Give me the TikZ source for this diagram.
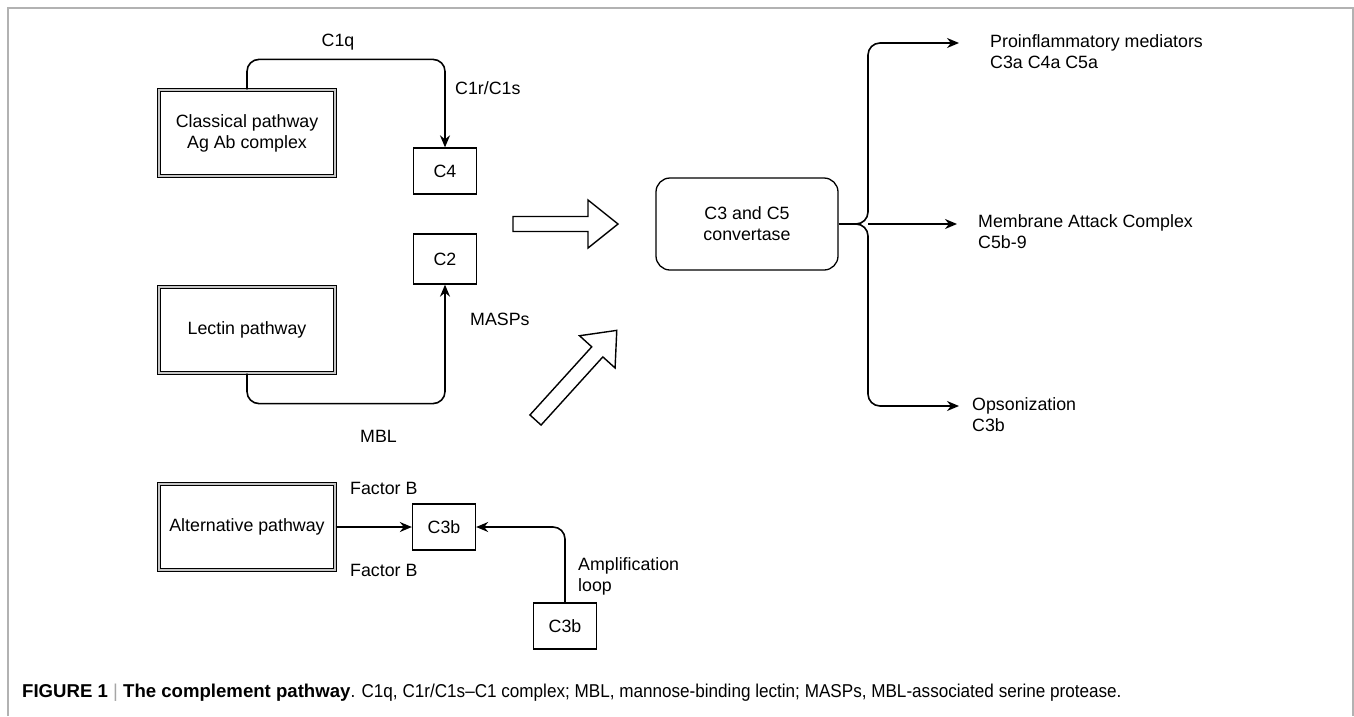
\documentclass[tikz,border=0pt]{standalone}
\usepackage{fontspec}
\setmainfont{Liberation Sans}
\newfontfamily\capfont[FakeStretch=0.92]{Liberation Sans}
\usetikzlibrary{positioning,arrows.meta}

\begin{document}
\begin{tikzpicture}[x=1pt,y=-1pt,
  font=\fontsize{17.8}{21}\selectfont,
  pathbox/.style={draw, line width=1.2pt, double=gray!45, double distance=1.2pt,
    minimum width=176pt, minimum height=86pt, align=center},
  cbox/.style={draw, line width=1.3pt, minimum width=63pt, minimum height=46pt, inner sep=0pt},
  convbox/.style={draw, line width=1.3pt, rounded corners=14pt, minimum width=182pt,
    minimum height=92pt, align=center},
  arr/.style={line width=1.6pt, -{Stealth[length=12pt,width=10pt]}, rounded corners=12pt},
  lbl/.style={anchor=west, align=left, inner sep=0pt},
  fatarrow/.style={draw, line width=1.4pt, fill=white, line join=miter}]
\useasboundingbox (0,0) rectangle (1354,716);

% Outer frame of the figure
\draw[gray!60, line width=1.5pt] (8,716) -- (8,8) -- (1353,8) -- (1353,716);

% The three pathways
\node[pathbox] (classical) at (247,133) {Classical pathway\\Ag Ab complex};
\node[pathbox] (lectin) at (247,330) {Lectin pathway};
\node[pathbox] (alternative) at (247,527) {Alternative pathway};

% Cleavage products
\node[cbox] (c4) at (445,171) {C4};
\node[cbox, minimum height=50pt] (c2) at (445,259) {C2};
\node[cbox] (c3b) at (444,527) {C3b};
\node[cbox] (c3bamp) at (565,626) {C3b};
\node[convbox] (conv) at (747,224) {C3 and C5\\convertase};

% Connectors into the products
\draw[arr] (classical.north) -- ++(0,-30) -| (c4.north);
\draw[arr] (lectin.south) -- ++(0,30) -| (c2.south);
\draw[arr] (alternative.east) -- (c3b.west);
\draw[arr] (c3bamp.north) |- (c3b.east);

% Labels on the connectors
\node (c1q) at (338,42) {C1q};
\node[lbl] (c1rs) at (455,88) {C1r/C1s};
\node[lbl] (masps) at (470,319) {MASPs};
\node[lbl] (mbl) at (360,436) {MBL};
\node[lbl] (fbtop) at (350,488) {Factor B};
\node[lbl] (fbbot) at (350,570) {Factor B};
\node[lbl] (amp) at (578,576) {Amplification\\loop};

% Block arrows towards the convertase
\draw[fatarrow] (513,216.5) -- (588,216.5) -- (588,200) -- (618,224) -- (588,248)
  -- (588,231.5) -- (513,231.5) -- cycle;
\begin{scope}[shift={(535.5,420)}, rotate=47.8]
\draw[fatarrow] (0,-7.5) -- (92,-7.5) -- (92,-24) -- (121,0) -- (92,24) -- (92,7.5)
  -- (0,7.5) -- cycle;
\end{scope}

% Outcomes
\node[lbl] (proinfl) at (990,52) {Proinflammatory mediators\\C3a C4a C5a};
\node[lbl] (mac) at (978,232) {Membrane Attack Complex\\C5b-9};
\node[lbl] (opson) at (972,415) {Opsonization\\C3b};

\coordinate (split) at (857,224);
\coordinate (spine) at (868,224);
\coordinate (toproi) at (959,43);
\coordinate (tomac) at (957,224);
\coordinate (toops) at (959,406);
\draw[line width=1.6pt] (conv.east) -- (split);
\draw[arr] (split) -| (spine |- toproi) -- (toproi);
\draw[arr] (split) -| (spine |- toops) -- (toops);
\draw[arr] (spine) -- (tomac);

% Caption
\node[anchor=base west, inner sep=0pt, font=\fontsize{18.6}{22}\selectfont] (caption) at (22,697)
  {\textbf{FIGURE 1} {\color{gray!70}|} \textbf{The complement pathway}{\capfont. C1q, C1r/C1s–C1 complex; MBL, mannose-binding lectin; MASPs, MBL-associated serine protease.}};
\end{tikzpicture}
\end{document}
